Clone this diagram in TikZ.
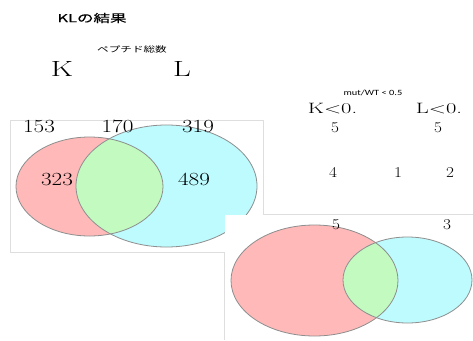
\documentclass[tikz,border=0pt]{standalone}
\usepackage{fontspec}
\newfontfamily\jpfont{Noto Sans CJK JP}
\newfontfamily\jptitle{Noto Sans CJK JP}[FakeBold=0.25]
\newfontfamily\labelsans{Carlito}

\definecolor{vred}{HTML}{FFB9B9}
\definecolor{vcyan}{HTML}{BDFBFF}
\definecolor{vgreen}{HTML}{C2FAC0}
\definecolor{vedge}{HTML}{8E8E8E}
\definecolor{framegray}{HTML}{DEDEDE}

% two overlapping ellipses: centre/radii of the left one, then of the right one
\newcommand\vennpair[8]{%
  \fill[vred] (#1,#2) ellipse [x radius=#3pt, y radius=#4pt];
  \fill[vcyan] (#5,#6) ellipse [x radius=#7pt, y radius=#8pt];
  \begin{scope}
    \clip (#1,#2) ellipse [x radius=#3pt, y radius=#4pt];
    \fill[vgreen] (#5,#6) ellipse [x radius=#7pt, y radius=#8pt];
  \end{scope}
  \draw[vennedge] (#1,#2) ellipse [x radius=#3pt, y radius=#4pt];
  \draw[vennedge] (#5,#6) ellipse [x radius=#7pt, y radius=#8pt];
}

\begin{document}
\begin{tikzpicture}[x=1pt,y=-1pt,
  vennedge/.style={draw=vedge, line width=0.8pt},
  panel/.style={draw=framegray, line width=0.8pt},
  bignum/.style={anchor=base, inner sep=0pt, xscale=1.25,
    font=\fontsize{18.5}{20}\selectfont},
  midnum/.style={anchor=base, inner sep=0pt, xscale=1.15,
    font=\fontsize{15}{17}\selectfont},
  ratio/.style={anchor=base, inner sep=0pt, xscale=1.5,
    font=\fontsize{15}{17}\selectfont},
  setname/.style={anchor=base, inner sep=0pt, xscale=1.4,
    font=\fontsize{22}{24}\selectfont},
]
\useasboundingbox (0,0) rectangle (473,340);
\fill[white] (0,0) rectangle (473,340);

% left border of the lower right panel
\draw[panel] (224,215) -- (224,340);

% upper left panel: totals
\filldraw[panel, fill=white] (10,120) rectangle (263,252);
\vennpair{89.5}{186.5}{73.5}{49.5}{166.5}{186}{90.5}{61}
\node[bignum] (n153) at (39,132) {153};
\node[bignum] (n170) at (117.5,132) {170};
\node[bignum] (n319) at (198,132) {319};
\node[bignum] (n323) at (57,185) {323};
\node[bignum] (n489) at (194,185) {489};

% upper right panel: counts below the threshold
\draw[panel] (263,214) -- (473,214);
\node[anchor=base, inner sep=0pt, xscale=1.3, font=\labelsans\fontsize{8}{9}\selectfont]
  (thr) at (373,95) {mut/WT < 0.5};
\node[ratio] (kratio) at (332.5,113) {K<0.};
\node[ratio] (lratio) at (439,113) {L<0.};
\node[midnum] (kfive) at (335,132) {5};
\node[midnum] (lfive) at (438,132) {5};
\node[midnum] (nfour) at (333,177) {4};
\node[midnum] (none) at (398,177) {1};
\node[midnum] (ntwo) at (450,177) {2};

% lower right panel
\fill[white] (225,215) rectangle (473,340);
\vennpair{314.5}{280.5}{83.5}{55.5}{407.5}{280}{64.5}{43}
\node[midnum] (cfive) at (336,229) {5};
\node[midnum] (cthree) at (447,229) {3};

% headings
\node[inner sep=0pt, xscale=1.5, font=\jptitle\fontsize{11}{13}\selectfont]
  (title) at (92,18) {KLの結果};
\node[inner sep=0pt, xscale=1.45, font=\jpfont\fontsize{8}{10}\selectfont]
  (sub) at (132,49) {ペプチド総数};
\node[setname] (setk) at (62,76) {K};
\node[setname] (setl) at (182,76) {L};
\end{tikzpicture}
\end{document}
